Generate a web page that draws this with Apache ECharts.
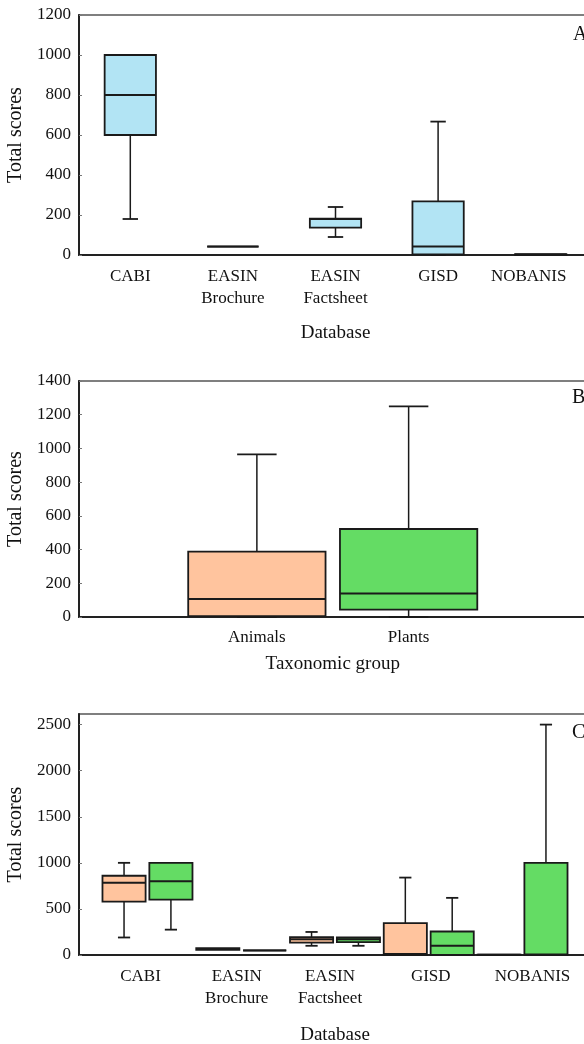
<!DOCTYPE html>
<html>
<head>
<meta charset="utf-8">
<script src="https://cdn.jsdelivr.net/npm/echarts@6/dist/echarts.min.js"></script>
<style>
html,body{margin:0;padding:0;background:#fff;}
#chart{width:584px;height:1044px;}
</style>
</head>
<body>
<div id="chart"></div>
<script>
// ---------- data ----------
const dbCategories = ['CABI', 'EASIN\nBrochure', 'EASIN\nFactsheet', 'GISD', 'NOBANIS'];
// [min, Q1, median, Q3, max]
const dbAllScores = [
  [180, 600, 800, 1000, 1000],
  [42, 42, 42, 42, 42],
  [90, 137, 180, 182, 240],
  [0, 3, 42, 268, 667],
  [0, 0, 2, 4, 4]
];
const taxCategories = ['Animals', 'Plants'];
const taxAnimals = [0, 5, 107, 388, 965];
const taxPlants = [0, 44, 139, 522, 1250];
const dbAnimals = [
  [190, 580, 785, 860, 1000],
  [55, 55, 65, 75, 75],
  [100, 135, 170, 195, 250],
  [0, 0, 10, 345, 840],
  [0, 0, 2, 4, 4]
];
const dbPlants = [
  [275, 600, 800, 1000, 1000],
  [50, 50, 50, 50, 50],
  [100, 140, 170, 190, 190],
  [0, 0, 100, 255, 620],
  [0, 0, 5, 1000, 2500]
];
const ticksA = {min: 0, max: 1200, interval: 200};
const ticksB = {min: 0, max: 1400, interval: 200};
const ticksC = {min: 0, max: 2615, interval: 500};

// ---------- styles ----------
const FONT = 'Liberation Serif';
const TXT = '#111';
const BLUE = '#B2E4F4', PEACH = '#FFC49E', GREEN = '#64DC64';
// label paddings [top,right,bottom,left] to nudge label centres as in the figure
const labelPadA = [[0,0,0,0],[0,0,0,0],[0,0,0,0],[0,0,0,0],[0,24,0,0]];
const labelPadC = [[0,14,0,0],[0,9,0,0],[0,10,0,0],[0,0,0,4],[0,0,0,20]];

function makeRender(boxFrac, capFrac, offFrac, fill) {
  return function (params, api) {
    const x = api.value(0);
    const mn = api.value(1), q1 = api.value(2), md = api.value(3), q3 = api.value(4), mx = api.value(5);
    const band = api.size([1, 0])[0];
    const c = api.coord([x, 0])[0] + offFrac * band;
    const bw = boxFrac * band, cw = capFrac * band;
    const y = v => api.coord([x, v])[1];
    const line = (x1, y1, x2, y2, w) => ({
      type: 'line', shape: {x1, y1, x2, y2},
      style: {stroke: '#1a1a1a', lineWidth: w}
    });
    const ch = [];
    if (mx > q3) { ch.push(line(c, y(q3), c, y(mx), 1.5)); ch.push(line(c - cw / 2, y(mx), c + cw / 2, y(mx), 1.8)); }
    if (mn < q1) { ch.push(line(c, y(q1), c, y(mn), 1.5)); ch.push(line(c - cw / 2, y(mn), c + cw / 2, y(mn), 1.8)); }
    ch.push({
      type: 'rect',
      shape: {x: c - bw / 2, y: y(q3), width: bw, height: y(q1) - y(q3)},
      style: {fill: fill, stroke: '#1a1a1a', lineWidth: 1.8}
    });
    ch.push(line(c - bw / 2, y(md), c + bw / 2, y(md), 2));
    return {type: 'group', children: ch};
  };
}

const labelStyle = {fontFamily: FONT, fontSize: 17, color: TXT};
const nameStyle = {fontFamily: FONT, fontSize: 19, color: TXT};
const frameLine = {show: true, lineStyle: {color: '#222', width: 2}};

function valueY(grid, t, showAll) {
  return {
    type: 'value', gridIndex: grid, min: t.min, max: t.max, interval: t.interval,
    show: showAll,
    axisLine: frameLine,
    axisTick: {show: true, inside: true, length: 3, lineStyle: {color: '#777', width: 1}},
    axisLabel: Object.assign({margin: 8, showMaxLabel: t.max % t.interval === 0, formatter: v => String(v)}, labelStyle),
    splitLine: {show: false},
    name: 'Total scores', nameLocation: 'middle', nameGap: 46, nameRotate: 90,
    nameTextStyle: {fontFamily: FONT, fontSize: 20, color: TXT}
  };
}
function frameX(grid) {
  return {
    type: 'value', gridIndex: grid, min: 0, max: 1,
    axisLine: frameLine, axisTick: {show: false}, axisLabel: {show: false}, splitLine: {show: false}
  };
}

const gridFrame = {show: true, borderColor: '#555', borderWidth: 1.5, backgroundColor: 'transparent'};
const noBounds = {outerBoundsMode: 'none', containLabel: false};

const option = {
  animation: false,
  title: [
    {text: 'A', left: 573, top: 25, padding: 0, textStyle: {fontFamily: FONT, fontSize: 20, fontWeight: 'normal', color: TXT}},
    {text: 'B', left: 572, top: 388, padding: 0, textStyle: {fontFamily: FONT, fontSize: 20, fontWeight: 'normal', color: TXT}},
    {text: 'C', left: 572, top: 723, padding: 0, textStyle: {fontFamily: FONT, fontSize: 20, fontWeight: 'normal', color: TXT}}
  ],
  grid: [
    Object.assign({left: 79, top: 15, right: -8, height: 240}, gridFrame, noBounds),
    Object.assign({left: 79, top: 381, right: -3, height: 236}, gridFrame, noBounds),
    Object.assign({left: 181, top: 381, right: 99.5, height: 236}, noBounds),
    Object.assign({left: 79, top: 714, right: -7, height: 241}, gridFrame, noBounds),
    Object.assign({left: 100.6, top: 714, right: 14.6, height: 241}, noBounds)
  ],
  xAxis: [
    {
      type: 'category', gridIndex: 0,
      data: dbCategories.map((c, i) => ({value: c, textStyle: {padding: labelPadA[i]}})),
      axisLine: frameLine, axisTick: {show: false},
      axisLabel: Object.assign({margin: 11, lineHeight: 22, interval: 0}, labelStyle),
      name: 'Database', nameLocation: 'middle', nameGap: 69, nameTextStyle: nameStyle
    },
    frameX(1),
    {
      type: 'category', gridIndex: 2, data: taxCategories,
      axisLine: {show: false}, axisTick: {show: false},
      axisLabel: Object.assign({margin: 12, interval: 0}, labelStyle),
      name: 'Taxonomic group', nameLocation: 'middle', nameGap: 38, nameTextStyle: nameStyle
    },
    frameX(3),
    {
      type: 'category', gridIndex: 4,
      data: dbCategories.map((c, i) => ({value: c, textStyle: {padding: labelPadC[i]}})),
      axisLine: {show: false}, axisTick: {show: false},
      axisLabel: Object.assign({margin: 11, lineHeight: 22, interval: 0}, labelStyle),
      name: 'Database', nameLocation: 'middle', nameGap: 71, nameTextStyle: nameStyle
    }
  ],
  yAxis: [
    valueY(0, ticksA, true),
    valueY(1, ticksB, true),
    valueY(2, ticksB, false),
    valueY(3, ticksC, true),
    valueY(4, ticksC, false)
  ],
  series: [
    {type: 'custom', xAxisIndex: 0, yAxisIndex: 0, renderItem: makeRender(0.5, 0.15, 0, BLUE),
      encode: {x: 0, y: [1, 2, 3, 4, 5]}, data: dbAllScores.map((s, i) => [i].concat(s))},
    {type: 'custom', xAxisIndex: 2, yAxisIndex: 2, renderItem: makeRender(0.905, 0.26, 0, PEACH),
      encode: {x: 0, y: [1, 2, 3, 4, 5]}, data: [[0].concat(taxAnimals)]},
    {type: 'custom', xAxisIndex: 2, yAxisIndex: 2, renderItem: makeRender(0.905, 0.26, 0, GREEN),
      encode: {x: 0, y: [1, 2, 3, 4, 5]}, data: [[1].concat(taxPlants)]},
    {type: 'custom', xAxisIndex: 4, yAxisIndex: 4, renderItem: makeRender(0.46, 0.13, -0.25, PEACH),
      encode: {x: 0, y: [1, 2, 3, 4, 5]}, data: dbAnimals.map((s, i) => [i].concat(s))},
    {type: 'custom', xAxisIndex: 4, yAxisIndex: 4, renderItem: makeRender(0.46, 0.13, 0.25, GREEN),
      encode: {x: 0, y: [1, 2, 3, 4, 5]}, data: dbPlants.map((s, i) => [i].concat(s))}
  ]
};

const chart = echarts.init(document.getElementById('chart'));
chart.setOption(option);
</script>
</body>
</html>
